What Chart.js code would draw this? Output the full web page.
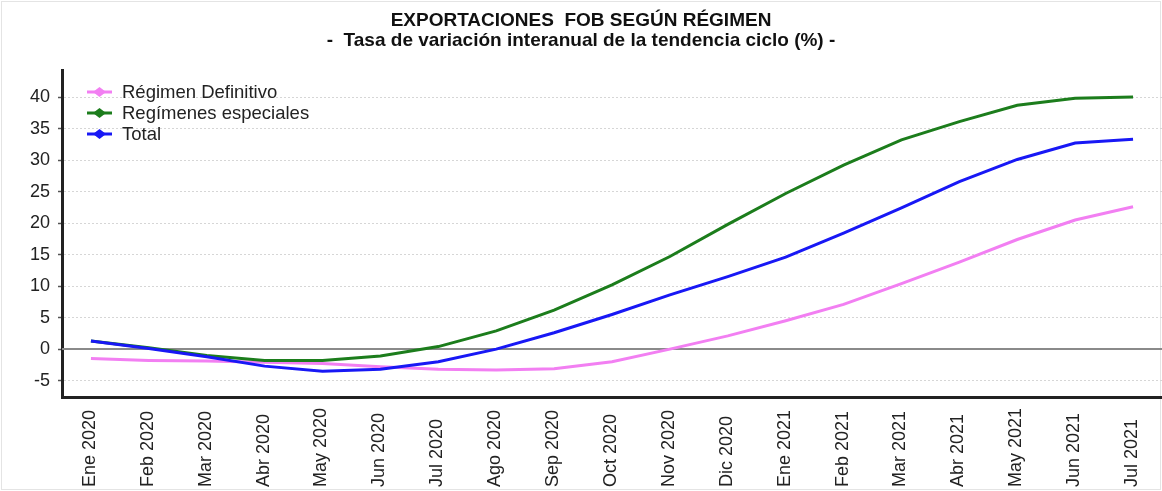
<!DOCTYPE html>
<html><head><meta charset="utf-8">
<script src="https://cdn.jsdelivr.net/npm/chart.js@4.4.0/dist/chart.umd.min.js"></script>
<style>html,body{margin:0;padding:0;background:#fff;overflow:hidden}
#wrap{position:relative;width:1162px;height:491px}</style>
</head><body><div id="wrap"><canvas id="c" width="1162" height="491"></canvas></div>
<script>
const categories = ['Ene 2020','Feb 2020','Mar 2020','Abr 2020','May 2020','Jun 2020','Jul 2020','Ago 2020','Sep 2020','Oct 2020','Nov 2020','Dic 2020','Ene 2021','Feb 2021','Mar 2021','Abr 2021','May 2021','Jun 2021','Jul 2021'];
const regimenDefinitivo = [-1.5, -1.8, -1.9, -2.1, -2.3, -2.8, -3.2, -3.3, -3.1, -2.0, 0.0, 2.1, 4.5, 7.1, 10.4, 13.8, 17.4, 20.5, 22.6];
const regimenesEspeciales = [1.3, 0.2, -1.0, -1.8, -1.8, -1.1, 0.4, 2.9, 6.2, 10.2, 14.7, 19.8, 24.7, 29.2, 33.2, 36.1, 38.7, 39.8, 40.0];
const total = [1.3, 0.1, -1.2, -2.7, -3.5, -3.2, -2.0, 0.0, 2.6, 5.5, 8.6, 11.5, 14.6, 18.4, 22.4, 26.6, 30.1, 32.7, 33.3];
const yTickValues = [-5, 0, 5, 10, 15, 20, 25, 30, 35, 40];
const seriesNames = ['Régimen Definitivo', 'Regímenes especiales', 'Total'];
const titleLines = ['EXPORTACIONES  FOB SEGÚN RÉGIMEN', '-  Tasa de variación interanual de la tendencia ciclo (%) -'];

const FONT = '"Liberation Sans", Arial, sans-serif';
const colors = ['#f27ff2', '#1c7d1c', '#1818f5'];

const extras = {
  id: 'extras',
  beforeDraw(chart) {
    const ctx = chart.ctx;
    ctx.save();
    ctx.fillStyle = '#fff';
    ctx.fillRect(0, 0, chart.width, chart.height);
    ctx.strokeStyle = '#e4e4e4';
    ctx.lineWidth = 1;
    ctx.strokeRect(1.5, 1.5, chart.width - 3, chart.height - 3);
    ctx.restore();
  },
  beforeDatasetsDraw(chart) {
    const ctx = chart.ctx, a = chart.chartArea, y = chart.scales.y.getPixelForValue(0);
    ctx.save();
    ctx.strokeStyle = '#8a8a8a';
    ctx.lineWidth = 2;
    ctx.beginPath();
    ctx.moveTo(a.left, y);
    ctx.lineTo(a.right, y);
    ctx.stroke();
    ctx.restore();
  },
  afterDraw(chart) {
    const ctx = chart.ctx, a = chart.chartArea, xs = chart.scales.x;
    ctx.save();
    ctx.font = '18px ' + FONT;
    ctx.fillStyle = '#222';
    ctx.textAlign = 'left';
    ctx.textBaseline = 'middle';
    categories.forEach((lab, i) => {
      const x = xs.getPixelForValue(i);
      ctx.save();
      ctx.translate(x - 1, 487);
      ctx.rotate(-Math.PI / 2);
      ctx.fillText(lab, 0, 0);
      ctx.restore();
    });
    ctx.font = '18.5px ' + FONT;
    chart.data.datasets.forEach((ds, i) => {
      const y = a.top + 22 + i * 21;
      ctx.strokeStyle = ds.borderColor;
      ctx.lineWidth = 3;
      ctx.beginPath();
      ctx.moveTo(87, y);
      ctx.lineTo(112, y);
      ctx.stroke();
      ctx.fillStyle = ds.borderColor;
      ctx.beginPath();
      ctx.moveTo(99.5, y - 5);
      ctx.lineTo(106, y);
      ctx.lineTo(99.5, y + 5);
      ctx.lineTo(93, y);
      ctx.closePath();
      ctx.fill();
      ctx.fillStyle = '#222';
      ctx.textAlign = 'left';
      ctx.textBaseline = 'middle';
      ctx.fillText(ds.label, 122, y + 1);
    });
    ctx.restore();
  }
};

new Chart(document.getElementById('c'), {
  type: 'line',
  data: {
    labels: categories,
    datasets: [
      { label: seriesNames[0], data: regimenDefinitivo, borderColor: colors[0], order: 3 },
      { label: seriesNames[1], data: regimenesEspeciales, borderColor: colors[1], order: 2 },
      { label: seriesNames[2], data: total, borderColor: colors[2], order: 1 }
    ].map(d => Object.assign(d, { borderWidth: 3, pointRadius: 0, tension: 0, fill: false, backgroundColor: d.borderColor }))
  },
  options: {
    responsive: false,
    animation: false,
    devicePixelRatio: 1,
    layout: { padding: { left: 0, right: 0, top: 0, bottom: 0 } },
    plugins: {
      legend: { display: false },
      tooltip: { enabled: false },
      title: {
        display: true,
        text: titleLines,
        color: '#111',
        font: { family: FONT, size: 19, weight: 'bold', lineHeight: '20px' },
        padding: { top: 11, bottom: 19 }
      }
    },
    scales: {
      x: {
        type: 'category',
        offset: true,
        grid: { display: false, drawTicks: false },
        border: { display: true, color: '#222', width: 3 },
        ticks: { display: false },
        afterFit(s) { s.height = 94; }
      },
      y: {
        min: -7.6,
        max: 44.3,
        afterBuildTicks(s) { s.ticks = yTickValues.map(v => ({ value: v })); },
        grid: { color: '#d6d6d6', lineWidth: 1, tickLength: 4, tickColor: '#555', tickWidth: 1.5 },
        border: { display: true, color: '#222', width: 3, dash: [2, 2] },
        ticks: { color: '#222', font: { family: FONT, size: 18 }, padding: 8 },
        afterFit(s) { s.width = 62; }
      }
    }
  },
  plugins: [extras]
});
</script></body></html>
